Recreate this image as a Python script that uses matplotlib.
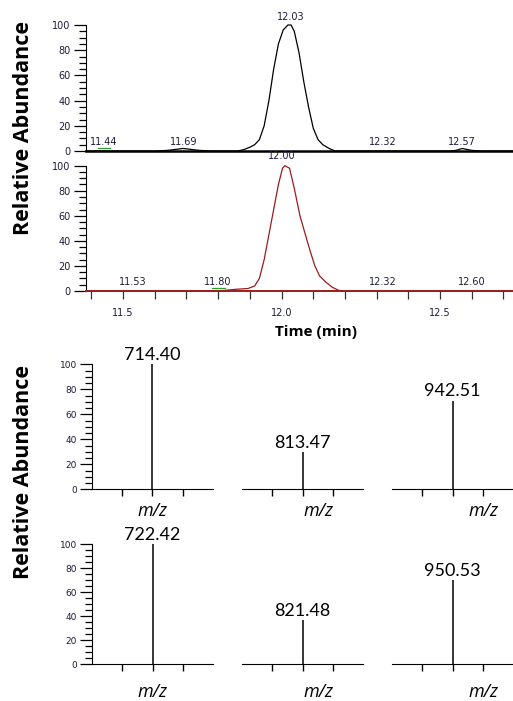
import matplotlib
matplotlib.use("Agg")
import matplotlib.pyplot as plt
from matplotlib.ticker import MultipleLocator
import numpy as np

# chromatogram traces (time in min, relative abundance)
top_time = [11.383, 11.60, 11.64, 11.69, 11.74, 11.78, 11.86, 11.88, 11.90, 11.915, 11.93,
            11.945, 11.96, 11.975, 11.99, 12.005, 12.02, 12.03, 12.04, 12.055, 12.07,
            12.085, 12.10, 12.115, 12.13, 12.15, 12.169, 12.53, 12.55, 12.57, 12.60,
            12.63, 12.73]
top_abund = [0, 0, 0.5, 2, 0.5, 0, 0, 1, 3, 5, 9,
             20, 40, 65, 85, 96, 100, 100, 95, 78, 55,
             35, 18, 9, 5, 2, 0, 0, 0.5, 2, 0.5,
             0, 0]

bot_time = [11.383, 11.80, 11.858, 11.894, 11.915, 11.93, 11.945, 11.96, 11.975, 11.99,
            12.003, 12.01, 12.025, 12.04, 12.058, 12.075, 12.09, 12.105, 12.12, 12.14,
            12.16, 12.18, 12.20, 12.73]
bot_abund = [0, 0, 1.4, 2, 4, 10, 25, 45, 65, 85,
             98, 100, 98, 82, 60, 45, 32, 20, 12, 7,
             3, 0.5, 0, 0]

top_apex = 12.03
bot_apex = 12.00
top_peak_labels = [11.44, 11.69, 12.32, 12.57]
bot_peak_labels = [11.53, 11.80, 12.32, 12.60]
top_noise = [11.44]
bot_noise = [11.80]

time_ticks = [11.5, 12.0, 12.5]

# mass spectra
mz_top = [714.40, 813.47, 942.51]
int_top = [100, 30, 71]
mz_bot = [722.42, 821.48, 950.53]
int_bot = [100, 37, 70]

W, H = 513, 701
fig = plt.figure(figsize=(W / 100, H / 100), dpi=100)

def frac(x0, y_bottom, x1, y_top):
    return [x0 / W, 1 - y_bottom / H, (x1 - x0) / W, (y_bottom - y_top) / H]

tick_color = '#1c1c3c'
small = dict(family='DejaVu Sans', size=7, color=tick_color)
red = '#9b1c1c'

def chrom_axis(ax):
    ax.set_xlim(11.383, 12.73)
    ax.set_ylim(0, 100)
    for s in ['top', 'right']:
        ax.spines[s].set_visible(False)
    ax.yaxis.set_major_locator(MultipleLocator(20))
    ax.yaxis.set_minor_locator(MultipleLocator(5))
    ax.tick_params(axis='y', which='major', length=9, width=0.9, labelsize=7,
                   labelcolor=tick_color, pad=2)
    ax.tick_params(axis='y', which='minor', length=5, width=0.9)

ax1 = fig.add_axes(frac(86, 151, 513, 25))
chrom_axis(ax1)
ax1.plot(top_time, top_abund, color='black', lw=0.9, clip_on=False)
ax1.spines['bottom'].set_linewidth(1.8)
ax1.set_xticks([])
ax1.text(top_apex, 102, f'{top_apex:.2f}', ha='center', va='bottom', **small)
for t in top_peak_labels:
    ax1.text(t, 3, f'{t:.2f}', ha='center', va='bottom', **small)
for t in top_noise:
    ax1.plot([t - 0.02, t + 0.02], [2.4, 2.4], color='#2ca02c', lw=0.9)

ax2 = fig.add_axes(frac(86, 291, 513, 165.7))
chrom_axis(ax2)
ax2.plot(bot_time, bot_abund, color=red, lw=0.9, clip_on=False)
ax2.spines['bottom'].set_color(red)
ax2.spines['bottom'].set_linewidth(1.4)
ax2.set_xticks(time_ticks)
ax2.set_xticklabels([f'{t:.1f}' for t in time_ticks], fontdict=small)
ax2.xaxis.set_minor_locator(MultipleLocator(0.1))
ax2.tick_params(axis='x', which='both', length=6, width=0.9, color='#333333', pad=6)
ax2.text(bot_apex, 104, f'{bot_apex:.2f}', ha='center', va='bottom', **small)
for t in bot_peak_labels:
    ax2.text(t, 3, f'{t:.2f}', ha='center', va='bottom', **small)
for t in bot_noise:
    ax2.plot([t - 0.02, t + 0.02], [2.4, 2.4], color='#2ca02c', lw=0.9)

fig.text(316 / W, 1 - 332 / H, 'Time (min)', ha='center', va='center',
         family='Open Sans', weight='bold', size=11)
fig.text(24 / W, 1 - 128 / H, 'Relative Abundance', ha='center', va='center',
         rotation=90, family='Open Sans', weight='bold', size=15.5)
fig.text(24 / W, 1 - 472 / H, 'Relative Abundance', ha='center', va='center',
         rotation=90, family='Open Sans', weight='bold', size=15.5)

# spectra panels
cols = [(92, 213), (242, 363), (392, 513)]
rows = [(489.3, 364.3, mz_top, int_top, -0.17), (664.3, 544.3, mz_bot, int_bot, -0.23)]
for y0, y1, mzs, ints, mz_y in rows:
    for i, ((x0, x1), mz, val) in enumerate(zip(cols, mzs, ints)):
        ax = fig.add_axes(frac(x0, y0, x1, y1))
        ax.set_xlim(mz - 1.5, mz + 1.5)
        ax.set_ylim(0, 100)
        ax.vlines(mz, 0, val, color='black', lw=1.1)
        ax.text(mz, val + 1, f'{mz:.2f}', ha='center', va='bottom',
                family='Lato', size=13)
        ax.set_xticks([mz - 0.75, mz, mz + 0.75])
        ax.set_xticklabels([])
        ax.tick_params(axis='x', length=5, width=1)
        for s in ['top', 'right']:
            ax.spines[s].set_visible(False)
        if i == 0:
            ax.yaxis.set_major_locator(MultipleLocator(20))
            ax.yaxis.set_minor_locator(MultipleLocator(5))
            ax.tick_params(axis='y', which='major', length=9, width=0.9,
                           labelsize=6.5, labelcolor=tick_color, pad=2)
            ax.tick_params(axis='y', which='minor', length=5, width=0.9)
        else:
            ax.spines['left'].set_visible(False)
            ax.set_yticks([])
        ax.text(0.5 + 0.13 * i, mz_y, 'm/z', transform=ax.transAxes, ha='center',
                va='center', family='Open Sans', style='italic', size=13)

fig.savefig('out.png', dpi=100)
